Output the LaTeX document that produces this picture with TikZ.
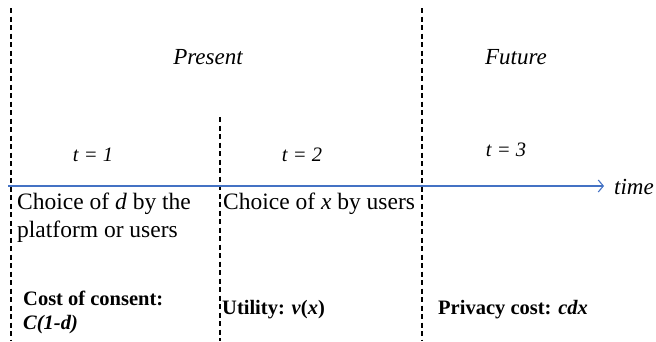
\documentclass[tikz,border=0pt]{standalone}
\usepackage{fontspec}
\setmainfont{Liberation Serif}
\usetikzlibrary{arrows.meta}
\definecolor{axisblue}{RGB}{68,114,196}
\begin{document}
\begin{tikzpicture}[x=1pt,y=-1pt,
  divider/.style={dash pattern=on 5pt off 3.5pt,line width=1.1pt},
  label/.style={font=\fontsize{23}{26}\selectfont\itshape,inner sep=0pt},
  tlabel/.style={font=\fontsize{20.5}{24}\selectfont\itshape,inner sep=0pt},
  body/.style={font=\fontsize{23.5}{28}\selectfont,inner sep=0pt,anchor=west,align=left},
  bodyb/.style={font=\fontsize{20.5}{24}\selectfont\bfseries,inner sep=0pt,anchor=west,align=left}]
\useasboundingbox (0,0) rectangle (656,341);
\coordinate (l1) at (11,8); \coordinate (l1b) at (11,341);
\coordinate (l2) at (220,117); \coordinate (l2b) at (220,341);
\coordinate (l3) at (422,8); \coordinate (l3b) at (422,341);
\draw[divider] (l1) -- (l1b);
\draw[divider] (l2) -- (l2b);
\draw[divider] (l3) -- (l3b);
\coordinate (a0) at (8,186); \coordinate (a1) at (604,186);
\draw[axisblue,line width=1.1pt,-{Straight Barb[length=5pt,width=12pt]}] (a0) -- (a1);
\node[label,anchor=west] (time) at (614,187) {time};
\node[label] (present) at (208,57) {Present};
\node[label] (future) at (516,57) {Future};
\node[tlabel] (t1) at (93,155) {t = 1};
\node[tlabel] (t2) at (302,155) {t = 2};
\node[tlabel] (t3) at (506,150) {t = 3};
\node[body] (c1) at (17,218) {Choice of \textit{d} by the\\platform or users};
\node[body] (c2) at (223,204) {Choice of \textit{x} by users};
\node[bodyb] (k1) at (23,312) {Cost of consent:\\\textit{C(1-d)}};
\node[bodyb] (k2) at (222,310) {Utility: \textit{v}(\textit{x})};
\node[bodyb] (k3) at (438,310) {Privacy cost: \textit{cdx}};
\end{tikzpicture}
\end{document}
